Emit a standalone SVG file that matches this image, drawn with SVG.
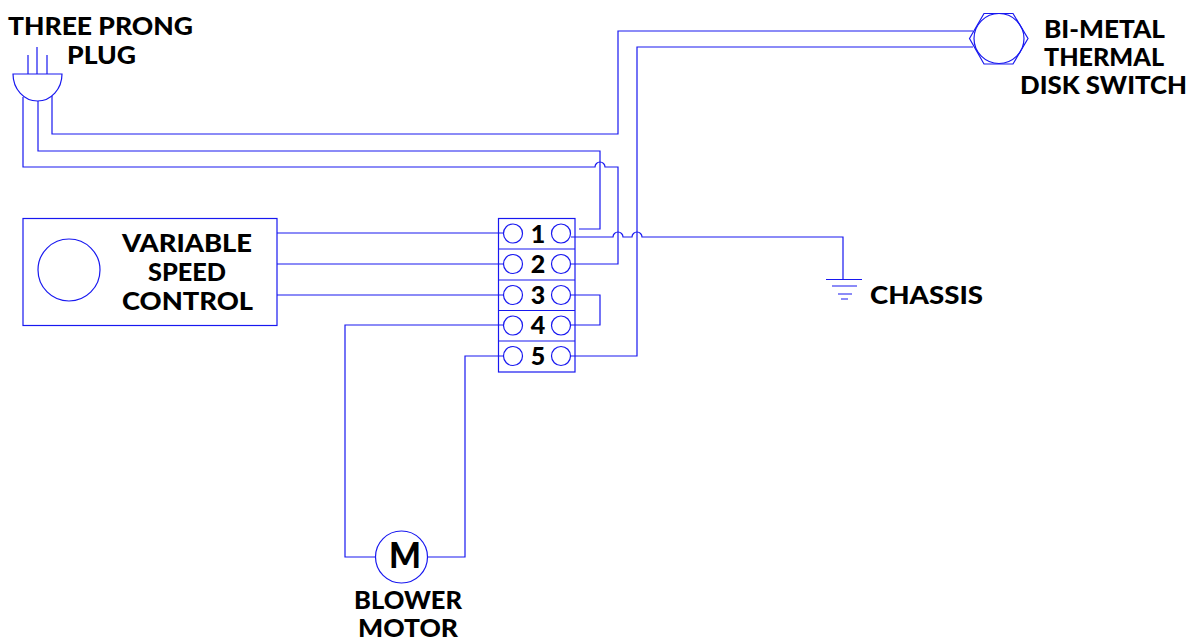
<svg xmlns="http://www.w3.org/2000/svg" width="1191" height="639" viewBox="0 0 1191 639">
<style>
.l{fill:none;stroke:#1818f0;stroke-width:1.2}
.t{font-family:"Lato","Liberation Sans",sans-serif;font-weight:900;font-size:25px;fill:#000;stroke:none;text-anchor:middle}
</style>
<rect width="1191" height="639" fill="#fff"/>
<g id="connectors" class="l">
<path d="M52 96V134H618V31H973"/>
<path d="M38 101V151H600V229H579"/>
<path d="M23 97V167H595A5 5 0 0 1 605 167H618V264H571"/>
<path d="M571 237H613A5 5 0 0 1 623 237H632A5 5 0 0 1 642 237H843V279"/>
<path d="M571 356H637V47H973"/>
<path d="M571 295H600V325H571"/>
<path d="M277 233H503M277 264H503M277 295H503"/>
<path d="M503 325H345V557H375"/>
<path d="M503 356H465V557H428"/>
</g>
<g id="plug" class="l">
<path d="M13 74H62A24.500 27 0 0 1 13 74Z"/>
<path d="M28 55V74M37 47V74M47 55V74"/>
<text class="t" x="100.500" y="35" textLength="185" lengthAdjust="spacingAndGlyphs">THREE PRONG</text>
<text class="t" x="101.500" y="63.500" textLength="69" lengthAdjust="spacingAndGlyphs">PLUG</text>
</g>
<g id="switch" class="l">
<path d="M969.500 38.500L984 13.500H1013L1028 38.500L1013 64H984Z"/>
<circle cx="999" cy="38.500" r="25"/>
<text class="t" x="1104.500" y="38" textLength="121" lengthAdjust="spacingAndGlyphs">BI-METAL</text>
<text class="t" x="1104" y="66" textLength="120" lengthAdjust="spacingAndGlyphs">THERMAL</text>
<text class="t" x="1103.500" y="94" textLength="167" lengthAdjust="spacingAndGlyphs">DISK SWITCH</text>
</g>
<g id="control" class="l">
<rect x="23" y="218.500" width="254" height="107"/>
<circle cx="69" cy="270" r="31"/>
<text class="t" x="187" y="252" textLength="130" lengthAdjust="spacingAndGlyphs">VARIABLE</text>
<text class="t" x="187" y="281" textLength="78" lengthAdjust="spacingAndGlyphs">SPEED</text>
<text class="t" x="187.500" y="309.500" textLength="131" lengthAdjust="spacingAndGlyphs">CONTROL</text>
</g>
<g id="terminal" class="l">
<rect x="498.500" y="218.500" width="76.500" height="153.500"/>
<path d="M498.500 249H575M498.500 280H575M498.500 310.500H575M498.500 341H575"/>
<circle cx="513" cy="233.500" r="9.500"/><circle cx="561" cy="233.500" r="9.500"/>
<circle cx="513" cy="264" r="9.500"/><circle cx="561" cy="264" r="9.500"/>
<circle cx="513" cy="295" r="9.500"/><circle cx="561" cy="295" r="9.500"/>
<circle cx="513" cy="325.500" r="9.500"/><circle cx="561" cy="325.500" r="9.500"/>
<circle cx="513" cy="356" r="9.500"/><circle cx="561" cy="356" r="9.500"/>
<text class="t" x="538" y="243">1</text><text class="t" x="538" y="273">2</text><text class="t" x="538" y="304">3</text><text class="t" x="538" y="334">4</text><text class="t" x="538" y="365">5</text>
</g>
<g id="ground" class="l">
<path d="M826 279.500H862M832 286H857M838 294H852M841 299H848"/>
<text class="t" x="926.500" y="304" textLength="113" lengthAdjust="spacingAndGlyphs">CHASSIS</text>
</g>
<g id="motor" class="l">
<circle cx="401.500" cy="557" r="26"/>
<text class="t" x="405" y="567.500" style="font-size:36px" textLength="32" lengthAdjust="spacingAndGlyphs">M</text>
<text class="t" x="408" y="609" textLength="108" lengthAdjust="spacingAndGlyphs">BLOWER</text>
<text class="t" x="408" y="636.500" textLength="100" lengthAdjust="spacingAndGlyphs">MOTOR</text>
</g>
</svg>
